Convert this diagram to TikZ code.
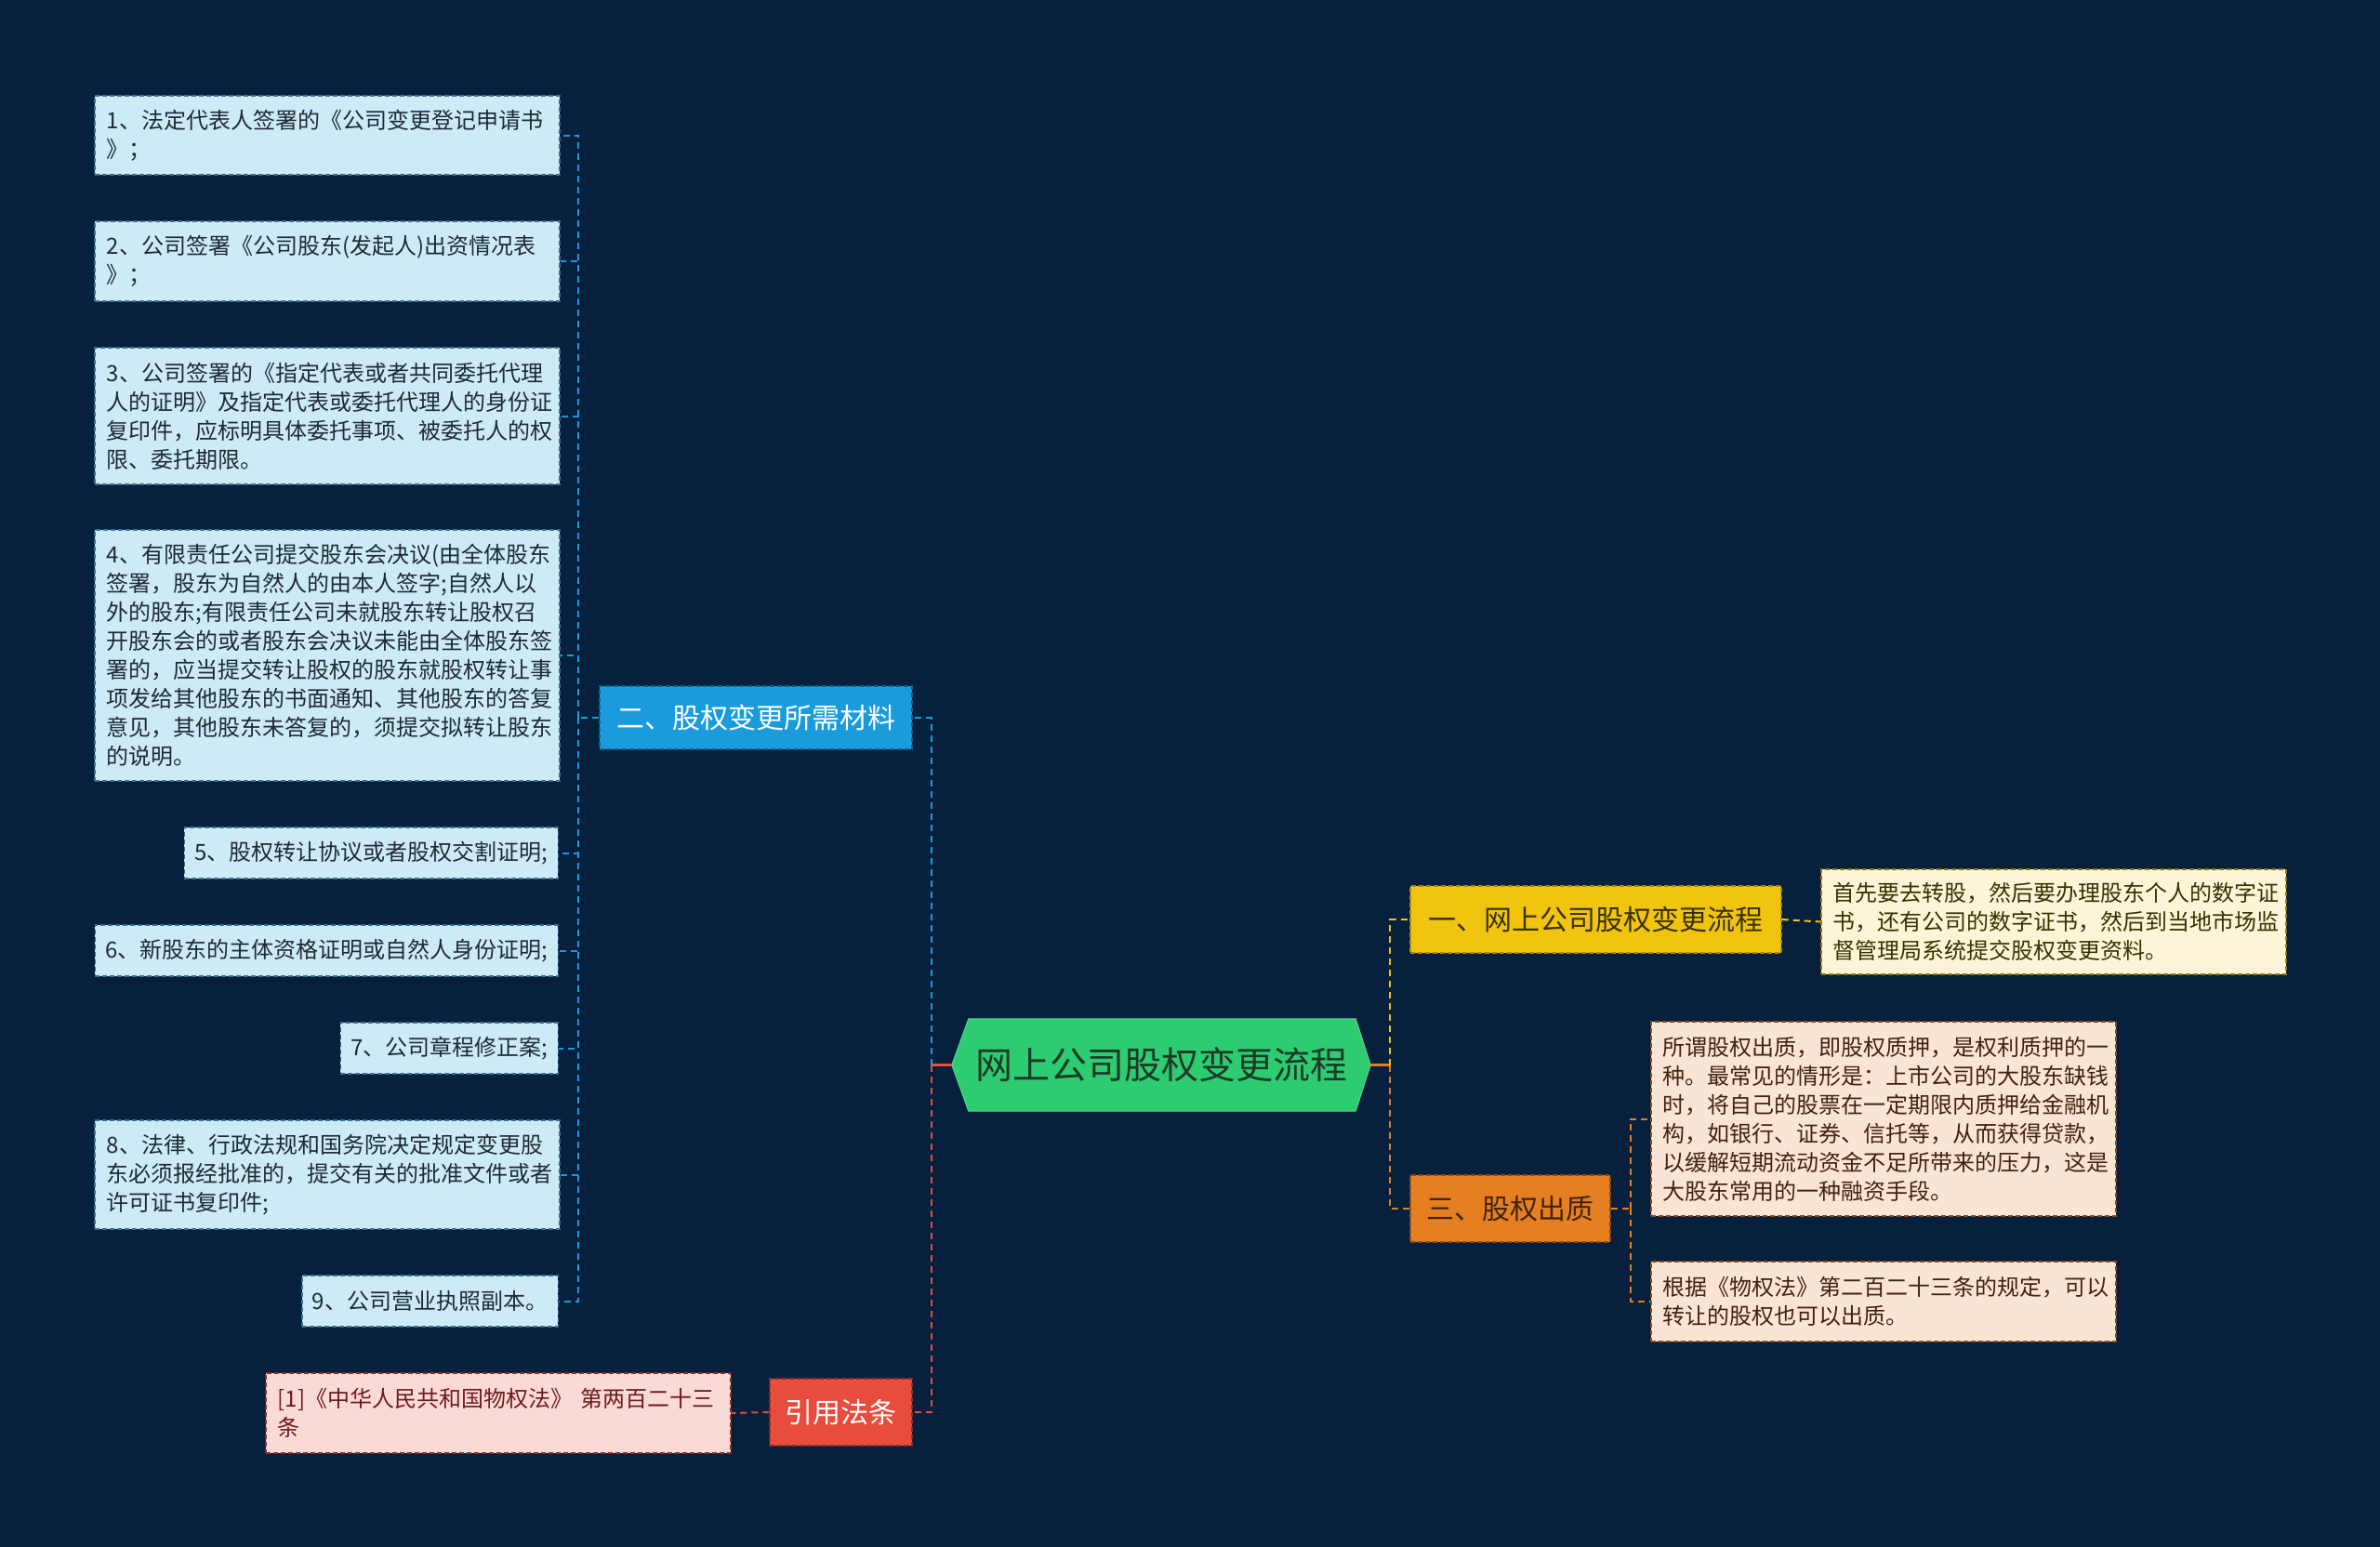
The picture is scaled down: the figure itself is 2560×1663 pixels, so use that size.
\documentclass[tikz,border=0pt]{standalone}
\usepackage{fontspec}
\setmainfont{Noto Sans CJK SC}
\usetikzlibrary{calc}
\definecolor{bgc}{HTML}{06203E}
\definecolor{leafc}{HTML}{CDEAF7}
\definecolor{leafb}{HTML}{3A6F8F}
\definecolor{leaft}{HTML}{1E2A36}
\definecolor{bluec}{HTML}{1A9BDC}
\definecolor{yelc}{HTML}{F1C40F}
\definecolor{yeld}{HTML}{FDF5D8}
\definecolor{yelt}{HTML}{3A3000}
\definecolor{orac}{HTML}{E67E22}
\definecolor{orad}{HTML}{FAE5D4}
\definecolor{orat}{HTML}{3E2410}
\definecolor{redc}{HTML}{E74C3C}
\definecolor{redd}{HTML}{FADAD6}
\definecolor{redt}{HTML}{6E1C1C}
\definecolor{rootc}{HTML}{2ECC71}
\definecolor{roott}{HTML}{1D3A27}
\pgfdeclarelayer{bgl}
\pgfdeclarelayer{midl}
\pgfsetlayers{bgl,midl,main}
\tikzset{
  boxb/.style={dash pattern=on 5pt off 3pt, line width=1.5pt},
  leaf/.style={boxb, fill=leafc, draw=leafb, text=leaft, inner xsep=13pt, inner ysep=0pt,
    font=\fontsize{24}{31}\selectfont, align=left},
  wide/.style={text width=474pt},
  narrow/.style={inner xsep=11pt},
  mainn/.style={boxb, inner sep=0pt, font=\fontsize{30}{36}\selectfont, align=center},
  conn/.style={line width=2pt, dash pattern=on 7pt off 5pt},
  bconn/.style={conn, draw=bluec},
  yconn/.style={conn, draw=yelc},
  oconn/.style={conn, draw=orac},
  rconn/.style={conn, draw=redc}
}
\begin{document}
\begin{tikzpicture}[x=1pt,y=-1pt]
\useasboundingbox (0,0) rectangle (2560,1663);
\begin{pgfonlayer}{bgl}
\fill[bgc] (-10,-10) rectangle (2570,1673);
\end{pgfonlayer}

% root
\node[inner sep=0pt, minimum width=450pt, minimum height=99pt, text=roott,
  font=\fontsize{40}{48}\selectfont] (root) at (1249,1145.5) {网上公司股权变更流程};
\begin{pgfonlayer}{midl}
\filldraw[fill=rootc, draw=rootc!80!white, line width=1pt]
  (root.west) -- ($(root.north west)+(18,0)$) -- ($(root.north east)+(-16,0)$)
  -- (root.east) -- ($(root.south east)+(-16,0)$) -- ($(root.south west)+(18,0)$) -- cycle;
\end{pgfonlayer}

% main branches
\node[mainn, fill=yelc, draw=yelc!70!black, text=yelt, minimum width=399pt, minimum height=72pt] (n1) at (1716.5,989) {一、网上公司股权变更流程};
\node[mainn, fill=bluec, draw=bluec!60!black, text=white, minimum width=336pt, minimum height=68pt] (n2) at (813,772) {二、股权变更所需材料};
\node[mainn, fill=orac, draw=orac!60!black, text=orat, minimum width=215pt, minimum height=72pt] (n3) at (1624.5,1300) {三、股权出质};
\node[mainn, fill=redc, draw=redc!60!black, text=white, minimum width=153pt, minimum height=72pt] (n4) at (904.5,1519) {引用法条};

% descriptions
\node[leaf, wide, fill=yeld, draw=yelc!60!black, text=yelt, minimum height=113pt, anchor=west] (d1) at (1958,991.5)
 {首先要去转股，然后要办理股东个人的数字证\\书，还有公司的数字证书，然后到当地市场监\\督管理局系统提交股权变更资料。};
\node[leaf, wide, fill=orad, draw=orac!60!black, text=orat, minimum height=209pt, anchor=west] (o1) at (1775,1203.5)
 {所谓股权出质，即股权质押，是权利质押的一\\种。最常见的情形是：上市公司的大股东缺钱\\时，将自己的股票在一定期限内质押给金融机\\构，如银行、证券、信托等，从而获得贷款，\\以缓解短期流动资金不足所带来的压力，这是\\大股东常用的一种融资手段。};
\node[leaf, wide, fill=orad, draw=orac!60!black, text=orat, minimum height=86pt, anchor=west] (o2) at (1775,1400)
 {根据《物权法》第二百二十三条的规定，可以\\转让的股权也可以出质。};
\node[leaf, wide, fill=redd, draw=redc!60!black, text=redt, minimum height=86pt, anchor=west] (r1) at (285,1520)
 {[1]《中华人民共和国物权法》 第两百二十三\\条};

% leaves
\node[leaf, wide, minimum height=85pt, anchor=west] (l1) at (101,145.5)
 {1、法定代表人签署的《公司变更登记申请书\\》；};
\node[leaf, wide, minimum height=86pt, anchor=west] (l2) at (101,281)
 {2、公司签署《公司股东(发起人)出资情况表\\》；};
\node[leaf, wide, minimum height=147pt, anchor=west] (l3) at (101,447.5)
 {3、公司签署的《指定代表或者共同委托代理\\人的证明》及指定代表或委托代理人的身份证\\复印件，应标明具体委托事项、被委托人的权\\限、委托期限。};
\node[leaf, wide, minimum height=270pt, anchor=west] (l4) at (101,705)
 {4、有限责任公司提交股东会决议(由全体股东\\签署，股东为自然人的由本人签字;自然人以\\外的股东;有限责任公司未就股东转让股权召\\开股东会的或者股东会决议未能由全体股东签\\署的，应当提交转让股权的股东就股权转让事\\项发给其他股东的书面通知、其他股东的答复\\意见，其他股东未答复的，须提交拟转让股东\\的说明。};
\node[leaf, narrow, minimum height=55pt, anchor=east] (l5) at (601,917.5) {5、股权转让协议或者股权交割证明;};
\node[leaf, narrow, minimum height=55pt, anchor=east] (l6) at (601,1022.5) {6、新股东的主体资格证明或自然人身份证明;};
\node[leaf, narrow, minimum height=55pt, anchor=east] (l7) at (601,1127.5) {7、公司章程修正案;};
\node[leaf, wide, minimum height=117pt, anchor=west] (l8) at (101,1263.5)
 {8、法律、行政法规和国务院决定规定变更股\\东必须报经批准的，提交有关的批准文件或者\\许可证书复印件;};
\node[leaf, narrow, minimum height=55pt, anchor=east] (l9) at (601,1399.5) {9、公司营业执照副本。};

% connectors: right side
\draw[line width=2.5pt, orac] (root.east) -- ++(21,0) coordinate (rj);
\draw[yconn] (rj) |- (n1.west);
\draw[oconn] (rj) |- (n3.west);
\draw[yconn] (n1.east) -- (d1.west);
\draw[oconn] (n3.east) -- ++(21,0) coordinate (oj);
\draw[oconn] (oj) |- (o1.west);
\draw[oconn] (oj) |- (o2.west);

% connectors: left side
\draw[line width=2.5pt, redc] (root.west) -- ++(-22,0) coordinate (lj);
\draw[bconn] (lj) |- (n2.east);
\draw[rconn] (lj) |- (n4.east);
\draw[rconn] (n4.west) -- (r1.east);
\draw[bconn] (n2.west) -- ++(-22,0) coordinate (bj);
\foreach \l in {l1,l2,l3,l4,l5,l6,l7,l8,l9}{
  \draw[bconn] (bj) |- (\l.east);
}
\end{tikzpicture}
\end{document}
